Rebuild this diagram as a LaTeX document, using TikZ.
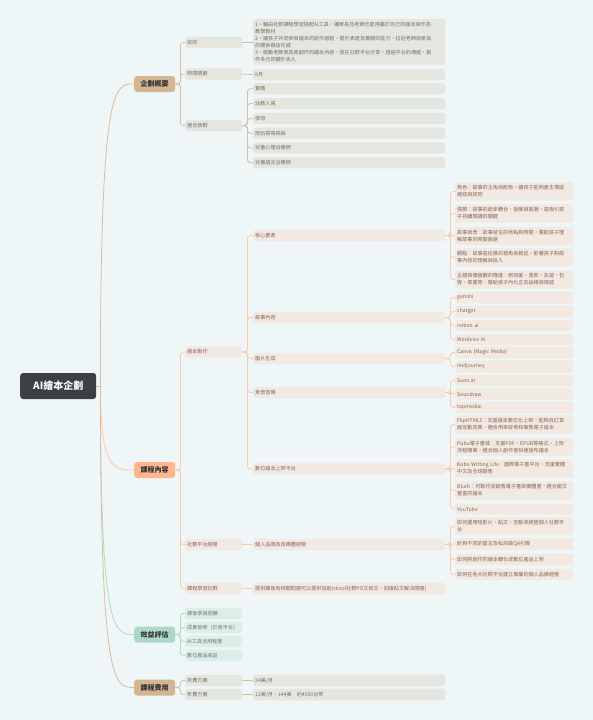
\documentclass[tikz,border=0pt]{standalone}
\usepackage{fontspec}
\setmainfont{Noto Sans CJK TC}
\usepackage{xcolor}
\usetikzlibrary{calc}

\definecolor{bgc}{HTML}{EEF6F7}
\definecolor{rootc}{HTML}{3B4043}
\definecolor{tanc}{HTML}{D4B591}
\definecolor{tanl}{HTML}{D9BE9C}
\definecolor{orgc}{HTML}{FFB68E}
\definecolor{orgl}{HTML}{FFC8A6}
\definecolor{grnc}{HTML}{ADD8C7}
\definecolor{grnl}{HTML}{B2DCCA}
\definecolor{greyf}{HTML}{E6E6E0}
\definecolor{peachf}{HTML}{F2E9E2}
\definecolor{mintf}{HTML}{DDEEE9}
\definecolor{greyt}{HTML}{707068}
\definecolor{peacht}{HTML}{846556}
\definecolor{mintt}{HTML}{5F7C72}

\begin{document}
\begin{tikzpicture}[
    x=1pt, y=-1pt,
    root/.style={rounded corners=3pt, fill=rootc, text=white, anchor=west, minimum width=76pt, minimum height=26pt, inner sep=0pt, font=\bfseries\fontsize{10}{12}\selectfont},
    topic/.style={rounded corners=3pt, anchor=west, minimum width=41pt, minimum height=16pt, inner sep=0pt, text=black!80, font=\bfseries\fontsize{7}{8}\selectfont},
    item/.style={rounded corners=2.5pt, anchor=west, align=left, inner xsep=2pt, inner ysep=3.2pt, minimum height=11pt, font=\fontsize{5.1}{7}\selectfont},
    lvtwo/.style={item, text width=53pt},
    lvthree/.style={item, text width=188pt},
    lvfour/.style={item, text width=114pt},
    planbox/.style={fill=greyf, text=greyt},
    contbox/.style={fill=peachf, text=peacht},
    evalbox/.style={fill=mintf, text=mintt},
    link/.style={line width=0.8pt, rounded corners=3pt},
    planline/.style={link, draw=tanl},
    contline/.style={link, draw=orgl},
    evalline/.style={link, draw=grnl}
]
\fill[bgc] (0,0) rectangle (593,720);
\useasboundingbox (0,0) rectangle (593,720);

\node[root] (ai) at (20,386) {AI繪本企劃};

\node[topic, fill=tanc] (plan) at (134,84) {企劃概要};
\node[topic, fill=orgc] (cont) at (134,470) {課程內容};
\node[topic, fill=grnc] (eval) at (134,634.5) {效益評估};
\node[topic, fill=tanc] (fee) at (134,687.5) {課程費用};

\draw[line width=0.8pt, tanl] (ai.east) -- ++(4,0) coordinate (r0);
\foreach \t/\c in {plan/tanl, cont/orgl, eval/grnl, fee/tanl}
  \draw[line width=0.8pt, \c] (r0) .. controls (r0 |- \t.west) and ($(\t.west)+(-20,0)$) .. (\t.west);

% 企劃概要
\node[lvtwo, planbox] (goal) at (185,42.5) {目的};
\node[lvtwo, planbox] (time) at (185,74) {時間規劃};
\node[lvtwo, planbox] (who) at (185,125.5) {適合族群};
\node[lvthree, planbox] (goaltxt) at (253,42) {1、藉由社群課程學習搭配AI工具，讓家長及老師也能用屬於自己的繪本來作為\\教學教材\\2、讓孩子共同參與繪本的創作過程，提升表達及實踐的能力，拉近老師與家長\\的關係跟信任感\\3、鼓勵老師家長將創作的繪本內容，放在社群平台分享，透過平台的傳遞，創\\作多元的額外收入};
\node[lvthree, planbox] (timetxt) at (253,74.5) {8月};
\foreach \t [count=\i] in {寶媽, 幼教人員, 保母, 陪玩哥哥姊姊, 兒童心理治療師, 兒童語言治療師}
  \node[lvthree, planbox] (who\i) at (253,{74+14.8*\i}) {\t};

\foreach \c in {goal, time, who} \draw[planline] (plan.east) -- ++(5,0) |- (\c.west);
\draw[planline] (goal.east) -- (goaltxt.west |- goal.east);
\draw[planline] (time.east) -- (timetxt.west);
\foreach \i in {1,...,6} \draw[planline] (who.east) -- ++(5,0) |- (who\i.west);

% 課程內容
\node[lvtwo, contbox] (make) at (185,352) {繪本製作};
\node[lvtwo, contbox] (social) at (185,544.5) {社群平台經營};
\node[lvtwo, contbox] (group) at (185,588.5) {課程學習社群};

\node[lvthree, contbox] (core) at (253,235.5) {核心要素};
\node[lvthree, contbox] (story) at (253,317.5) {故事內容};
\node[lvthree, contbox] (pic) at (253,358.5) {圖片生成};
\node[lvthree, contbox] (music) at (253,392.5) {背景音樂};
\node[lvthree, contbox] (shelf) at (253,469) {數位繪本上架平台};
\node[lvthree, contbox] (brand) at (253,544.5) {個人品牌及自媒體經營};
\node[lvthree, contbox] (help) at (253,588.5) {提供課後有相關問題可以提供協助(skool社群PO文發文，回復貼文解決問題)};

\node[lvfour, contbox] (core1) at (455,191.5) {角色：故事的主角與配角，讓孩子能夠產生情感\\連結與認同};
\node[lvfour, contbox] (core2) at (455,213.5) {情節：故事的起承轉合，發展與高潮，是吸引孩\\子持續閱讀的關鍵};
\node[lvfour, contbox] (core3) at (455,236) {故事背景：故事發生的地點與時間，幫助孩子理\\解故事的時間脈絡};
\node[lvfour, contbox] (core4) at (455,257.5) {觀點：故事是從誰的視角來敘述，影響孩子對故\\事內容的理解與投入};
\node[lvfour, contbox] (core5) at (455,279.5) {主題與價值觀的傳達：例如愛、勇氣、友誼、包\\容、尊重等，幫助孩子內化正向品格與情感};

\foreach \t [count=\i] in {gemini, chatgpt, notion ai, Wordvice AI}
  \node[lvfour, contbox] (story\i) at (455,{283.5+14*\i}) {\t};
\node[lvfour, contbox] (pic1) at (455,352.5) {Canva (Magic Media)};
\node[lvfour, contbox] (pic2) at (455,366.5) {midjourney};
\foreach \t [count=\i] in {Suno.ai, Soundraw, topmediai}
  \node[lvfour, contbox] (music\i) at (455,{367+13.5*\i}) {\t};

\node[lvfour, contbox] (shelf1) at (455,424.5) {FlipHTML5：支援繪本數位化上架，能夠自訂頁\\面互動效果，適合用來發佈和販售電子繪本};
\node[lvfour, contbox] (shelf2) at (455,447) {Pubu電子書城：支援PDF、EPUB等格式，上架\\流程簡單，適合個人創作者快速發布繪本};
\node[lvfour, contbox] (shelf3) at (455,468.5) {Kobo Writing Life：國際電子書平台，支援繁體\\中文及全球銷售};
\node[lvfour, contbox] (shelf4) at (455,490.5) {Blurb：可製作並銷售電子書與實體書，適合圖文\\豐富的繪本};
\node[lvfour, contbox] (shelf5) at (455,509) {YouTube};

\node[lvfour, contbox] (brand1) at (455,526) {如何運用短影片、貼文、互動來經營個人社群平\\台};
\node[lvfour, contbox] (brand2) at (455,544) {針對不同的留言及私訊做QA引導};
\node[lvfour, contbox] (brand3) at (455,559.5) {如何將創作的繪本轉化成數位產品上架};
\node[lvfour, contbox] (brand4) at (455,574.5) {如何在各大社群平台建立專屬的個人品牌經營};

\foreach \c in {make, social, group} \draw[contline] (cont.east) -- ++(5,0) |- (\c.west);
\foreach \c in {core, story, pic, music, shelf} \draw[contline] (make.east) -- ++(5,0) |- (\c.west);
\draw[contline] (social.east) -- (brand.west);
\draw[contline] (group.east) -- (help.west);
\foreach \i in {1,...,5} \draw[contline] (core.east) -- ++(5,0) |- (core\i.west);
\foreach \i in {1,...,4} \draw[contline] (story.east) -- ++(5,0) |- (story\i.west);
\foreach \i in {1,2} \draw[contline] (pic.east) -- ++(5,0) |- (pic\i.west);
\foreach \i in {1,2,3} \draw[contline] (music.east) -- ++(5,0) |- (music\i.west);
\foreach \i in {1,...,5} \draw[contline] (shelf.east) -- ++(5,0) |- (shelf\i.west);
\foreach \i in {1,...,4} \draw[contline] (brand.east) -- ++(5,0) |- (brand\i.west);

% 效益評估
\foreach \t [count=\i] in {課後學員回饋, 成果發佈（於各平台）, AI工具活用程度, 數位產品收益}
  \node[lvtwo, evalbox] (eval\i) at (185,{599.5+14*\i}) {\t};
\foreach \i in {1,...,4} \draw[evalline] (eval.east) -- ++(5,0) |- (eval\i.west);

% 課程費用
\node[lvtwo, planbox] (month) at (185,680.5) {月費方案};
\node[lvtwo, planbox] (year) at (185,694.5) {年費方案};
\node[lvthree, planbox] (monthtxt) at (253,680.5) {24美/月};
\node[lvthree, planbox] (yeartxt) at (253,694.5) {12美/月，144美　約4500台幣};
\foreach \c in {month, year} \draw[planline] (fee.east) -- ++(5,0) |- (\c.west);
\draw[planline] (month.east) -- (monthtxt.west);
\draw[planline] (year.east) -- (yeartxt.west);
\end{tikzpicture}
\end{document}
